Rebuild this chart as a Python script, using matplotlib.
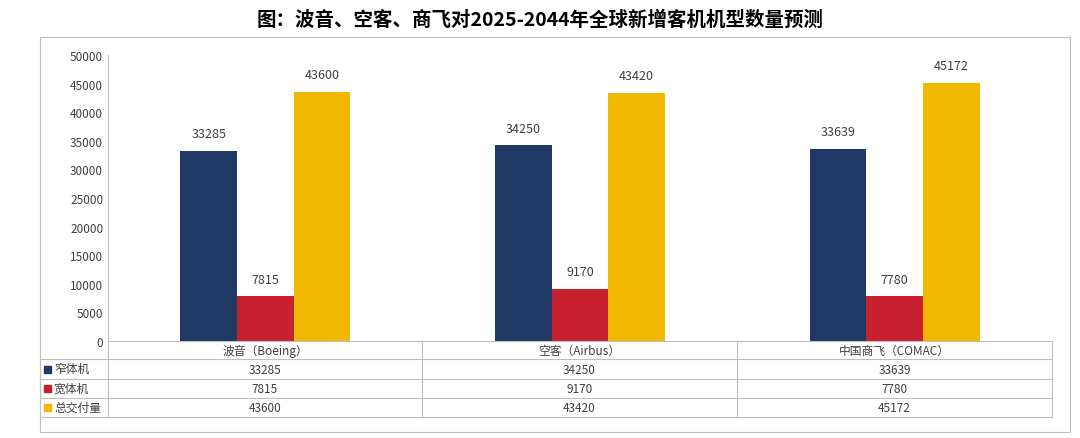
import matplotlib.pyplot as plt
import numpy as np
from matplotlib.patches import Rectangle
from matplotlib.lines import Line2D

plt.rcParams['font.family'] = ['Noto Sans CJK SC', 'DejaVu Sans']

# DATA
categories = ["波音（Boeing）", "空客（Airbus）", "中国商飞（COMAC）"]
series_names = ["窄体机", "宽体机", "总交付量"]
narrow = [33285, 34250, 33639]
wide = [7815, 9170, 7780]
total = [43600, 43420, 45172]
colors = ["#1F3864", "#C8202F", "#F0B800"]

W, H = 1080, 439
fig = plt.figure(figsize=(W / 100, H / 100), dpi=100)

def fx(px):
    return px / W

def fy(py):
    return 1 - py / H

fig.text(0.5, fy(20), "图：波音、空客、商飞对2025-2044年全球新增客机机型数量预测",
         ha="center", va="center", fontsize=14, fontweight="bold")

# outer frame
fig.add_artist(Rectangle((fx(40), fy(433)), fx(1030), fy(38) - fy(433),
                         fill=False, edgecolor="#BFBFBF", lw=0.8, transform=fig.transFigure))

ax = fig.add_axes([fx(108), fy(342), fx(944), fy(56) - fy(342)])
x = np.arange(len(categories))
bw = 0.18
for i, (vals, c) in enumerate(zip([narrow, wide, total], colors)):
    bars = ax.bar(x + (i - 1) * bw, vals, bw, color=c, zorder=3)
    for b, v in zip(bars, vals):
        ax.text(b.get_x() + b.get_width() / 2, v + 1800, str(v),
                ha="center", va="bottom", fontsize=9, color="#404040")
ax.set_xlim(-0.5, 2.5)
ax.set_ylim(0, 50000)
ax.set_yticks(range(0, 50001, 5000))
ax.tick_params(axis="y", labelsize=8.5, colors="#404040", length=0)
ax.set_xticks([])
for s in ["top", "right", "bottom"]:
    ax.spines[s].set_visible(False)
ax.spines["left"].set_color("#BFBFBF")

# data table
rows_y = [342, 360, 380, 399, 418]
col_x = [108, 422, 737, 1052]
lc = "#BFBFBF"
def hline(y, x0, x1):
    fig.add_artist(Line2D([fx(x0), fx(x1)], [fy(y), fy(y)], color=lc, lw=0.8))
def vline(xp, y0, y1):
    fig.add_artist(Line2D([fx(xp), fx(xp)], [fy(y0), fy(y1)], color=lc, lw=0.8))

hline(342, 108, 1052)
for y in rows_y[1:]:
    hline(y, 40, 1052)
vline(40, 360, 418)
for xp in col_x:
    vline(xp, 342, 418)

for j, cat in enumerate(categories):
    fig.text(fx((col_x[j] + col_x[j + 1]) / 2), fy(351), cat,
             ha="center", va="center", fontsize=8.5, color="#404040")
for r, (name, vals, c) in enumerate(zip(series_names, [narrow, wide, total], colors)):
    yc = (rows_y[r + 1] + rows_y[r + 2]) / 2
    fig.add_artist(Rectangle((fx(44), fy(yc + 3.5)), fx(7), fy(yc - 3.5) - fy(yc + 3.5),
                             color=c, transform=fig.transFigure))
    fig.text(fx(54), fy(yc), name, ha="left", va="center", fontsize=8.5, color="#404040")
    for j, v in enumerate(vals):
        fig.text(fx((col_x[j] + col_x[j + 1]) / 2), fy(yc), str(v),
                 ha="center", va="center", fontsize=8.5, color="#404040")

fig.savefig("out.png", dpi=100)
